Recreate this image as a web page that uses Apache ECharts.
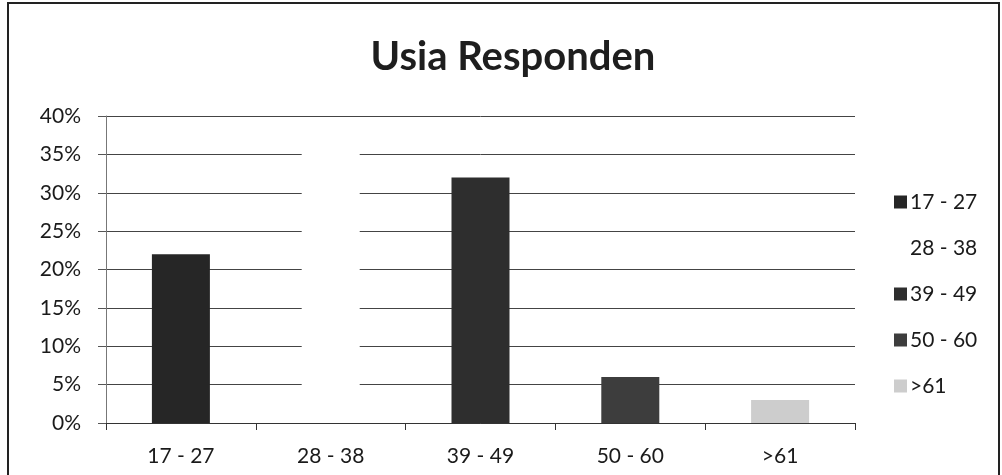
<!DOCTYPE html>
<html>
<head>
<meta charset="utf-8">
<script src="https://cdn.jsdelivr.net/npm/echarts@6/dist/echarts.min.js"></script>
<style>html,body{margin:0;padding:0;background:#fff}#c{width:1002px;height:475px}</style>
</head>
<body>
<div id="c"></div>
<script>
const categories = ['17 - 27', '28 - 38', '39 - 49', '50 - 60', '>61'];
const axisLabels = ['17 - 27', '28 - 38', '39 - 49', '50 - 60', '>61'];
const values = [22, 37, 32, 6, 3];
const colors = ['#262626', '#ffffff', '#2e2e2e', '#3d3d3d', '#cdcdcd'];
const yTicks = [0, 5, 10, 15, 20, 25, 30, 35, 40];

const FONT = 'Lato, "Open Sans", sans-serif';
const chart = echarts.init(document.getElementById('c'));
const series = categories.map((name, i) => ({
  name: name,
  type: 'bar',
  stack: 'all',
  barWidth: 58,
  itemStyle: { color: colors[i] },
  data: values.map((v, j) => (j === i ? v : '-'))
}));
chart.setOption({
  animation: false,
  backgroundColor: '#fff',
  title: {
    text: 'Usia Responden',
    left: 508, top: 32, textAlign: 'center',
    textStyle: { fontFamily: FONT, fontSize: 40, fontWeight: 'bold', color: '#1e1e1e' }
  },
  legend: {
    orient: 'vertical',
    left: 889, top: 186,
    itemWidth: 13, itemHeight: 13, itemGap: 24,
    icon: 'rect',
    textStyle: { fontFamily: FONT, fontSize: 21, lineHeight: 22, color: '#1a1a1a', padding: [0, 0, 0, -2] },
    data: categories
  },
  grid: { left: 106, right: 147, top: 116, bottom: 52 },
  xAxis: {
    type: 'category',
    data: axisLabels,
    axisLine: { lineStyle: { color: '#333', width: 1 } },
    axisTick: { show: true, length: 7, lineStyle: { color: '#333' } },
    axisLabel: { fontFamily: FONT, fontSize: 21, color: '#1a1a1a', margin: 23 }
  },
  yAxis: {
    type: 'value',
    min: yTicks[0], max: yTicks[yTicks.length - 1], interval: 5,
    axisLine: { show: true, lineStyle: { color: '#777' } },
    axisTick: { show: true, length: 8, lineStyle: { color: '#555' } },
    axisLabel: { formatter: '{value}%', fontFamily: FONT, fontSize: 21, color: '#1a1a1a', margin: 25 },
    splitLine: { lineStyle: { color: '#444', width: 1 } }
  },
  graphic: [{
    type: 'rect',
    shape: { x: 8, y: 3, width: 991, height: 480 },
    style: { fill: 'none', stroke: '#222', lineWidth: 2 },
    silent: true
  }],
  series: series
});
</script>
</body>
</html>
